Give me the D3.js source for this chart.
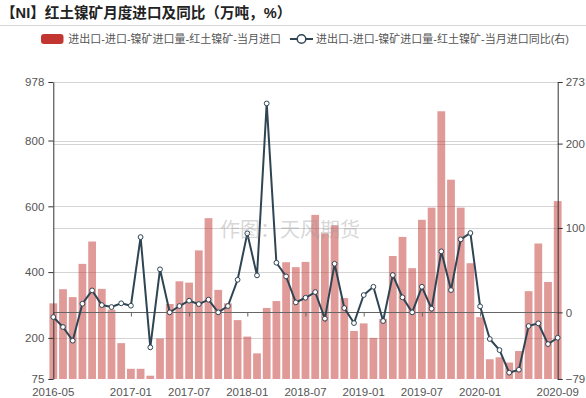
<!DOCTYPE html>
<html>
<head>
<meta charset="utf-8">
<script src="https://cdn.jsdelivr.net/npm/d3@7"></script>
<style>
  body { margin: 0; background: #fff; }
  svg { display: block; font-family: "Liberation Sans", Arial, "Noto Sans CJK SC", sans-serif; }
</style>
</head>
<body>
<div id="chart"></div>
<script>
// monthly categories
var months = ["2016-05","2016-06","2016-07","2016-08","2016-09","2016-10","2016-11","2016-12",
  "2017-01","2017-02","2017-03","2017-04","2017-05","2017-06","2017-07","2017-08","2017-09","2017-10","2017-11","2017-12",
  "2018-01","2018-02","2018-03","2018-04","2018-05","2018-06","2018-07","2018-08","2018-09","2018-10","2018-11","2018-12",
  "2019-01","2019-02","2019-03","2019-04","2019-05","2019-06","2019-07","2019-08","2019-09","2019-10","2019-11","2019-12",
  "2020-01","2020-02","2020-03","2020-04","2020-05","2020-06","2020-07","2020-08","2020-09"];

// 当月进口 (万吨)
var imports = [305,348,324,425,493,349,286,184,
  106,106,85,198,303,372,368,466,564,346,305,254,
  204,153,291,312,430,415,431,574,518,542,321,221,
  244,200,258,449,507,412,559,596,889,681,596,427,
  263,135,141,125,160,342,487,370,616];

// 当月进口同比 (%)
var yoy = [-5.6,-17.4,-33.6,10.2,26,8.6,6.3,10.7,
  7.9,89.2,-41.5,51,0,7.5,13.8,9.8,15,0,7.5,38.6,
  93.6,43.8,247.6,58.8,42.6,11.8,17.3,24,-7.5,57.6,5.1,-12.7,
  20.5,30.3,-10.3,44.2,17.8,0,30.3,4.3,72.3,26.4,86.5,94,
  7.1,-31.6,-44.7,-71.5,-68,-16.2,-13,-37.6,-30.1];

var xTickLabels = ["2016-05","2017-01","2017-07","2018-01","2018-07","2019-01","2019-07","2020-01","2020-09"];
var leftTicks = [75,200,400,600,800,978];
var rightTicks = [-79,0,100,200,273];

var title = "【NI】红土镍矿月度进口及同比（万吨，%）";
var barName = "进出口-进口-镍矿进口量-红土镍矿-当月进口";
var lineName = "进出口-进口-镍矿进口量-红土镍矿-当月进口同比(右)";

var W = 586, H = 398;
var pLeft = 53.3, pRight = 557.7, pTop = 82, pBottom = 379;
var barColor = "#c23531", lineColor = "#2f4554";

var svg = d3.select("#chart").append("svg").attr("width", W).attr("height", H);
svg.append("rect").attr("width", W).attr("height", H).attr("fill", "#fff");

var x = d3.scalePoint().domain(months).range([pLeft, pRight]);
var step = x.step();
var yL = d3.scaleLinear().domain([75, 978]).range([pBottom, pTop]);
var yR = d3.scaleLinear().domain([-79, 273]).range([pBottom, pTop]);

// title + separator
svg.append("text").attr("x", 1).attr("y", 18)
  .attr("font-size", "14.6px").attr("font-weight", "bold").attr("fill", "#222")
  .text(title);
svg.append("line").attr("x1", 0).attr("x2", W).attr("y1", 25.5).attr("y2", 25.5)
  .attr("stroke", "#d6d6d6");

// grid lines
var grid = svg.append("g");
leftTicks.slice(1).forEach(function(t) {
  grid.append("line").attr("x1", pLeft).attr("x2", pRight)
    .attr("y1", Math.round(yL(t)) + 0.5).attr("y2", Math.round(yL(t)) + 0.5)
    .attr("stroke", "#d4d4d4");
});
[100, 200].forEach(function(t) {
  grid.append("line").attr("x1", pLeft).attr("x2", pRight)
    .attr("y1", Math.round(yR(t)) + 0.5).attr("y2", Math.round(yR(t)) + 0.5)
    .attr("stroke", "#d4d4d4");
});

// bars
svg.append("g").selectAll("rect")
  .data(imports)
  .enter().append("rect")
    .attr("x", function(d, i) { return x(months[i]) - step * 0.4; })
    .attr("y", function(d) { return yL(d); })
    .attr("width", step * 0.8)
    .attr("height", function(d) { return pBottom - yL(d); })
    .attr("fill", barColor)
    .attr("fill-opacity", 0.5);

// x axis on the right-axis zero line
var zeroY = Math.round(yR(0)) + 0.5;
var xAxis = svg.append("g").attr("transform", "translate(0," + zeroY + ")")
  .call(d3.axisBottom(x).tickValues(xTickLabels.slice(0, -1)).tickSize(4).tickFormat(""));
xAxis.select(".domain").attr("stroke", "#666").attr("d", "M" + pLeft + ",0H" + pRight);
xAxis.selectAll(".tick line").attr("stroke", "#666");

svg.append("g").selectAll("text")
  .data(xTickLabels)
  .enter().append("text")
    .attr("x", function(d) { return x(d); })
    .attr("y", 396)
    .attr("text-anchor", "middle")
    .attr("font-size", "11.5px")
    .attr("fill", "#555")
    .text(function(d) { return d; });

// left axis
var axL = svg.append("g").attr("transform", "translate(" + pLeft + ",0)")
  .call(d3.axisLeft(yL).tickValues(leftTicks).tickSize(5).tickSizeOuter(0).tickPadding(4));
axL.select(".domain").attr("stroke", "#333");
axL.selectAll(".tick line").attr("stroke", "#333");

// right axis
var axR = svg.append("g").attr("transform", "translate(" + pRight + ",0)")
  .call(d3.axisRight(yR).tickValues(rightTicks).tickSize(5).tickSizeOuter(0).tickPadding(3));
axR.select(".domain").attr("stroke", "#333");
axR.selectAll(".tick line").attr("stroke", "#333");

[axL, axR, xAxis].forEach(function(a) { a.attr("font-family", null).attr("font-size", null); });
svg.selectAll(".tick text").attr("font-size", "11.5px").attr("fill", "#555");

// line
var line = d3.line()
  .x(function(d, i) { return x(months[i]); })
  .y(function(d) { return yR(d); });
svg.append("path").datum(yoy)
  .attr("d", line)
  .attr("fill", "none")
  .attr("stroke", lineColor)
  .attr("stroke-width", 2);
svg.append("g").selectAll("circle")
  .data(yoy)
  .enter().append("circle")
    .attr("cx", function(d, i) { return x(months[i]); })
    .attr("cy", function(d) { return yR(d); })
    .attr("r", 2.4)
    .attr("fill", "#fff")
    .attr("stroke", lineColor)
    .attr("stroke-width", 1);

// watermark
svg.append("text").attr("x", 290).attr("y", 237)
  .attr("text-anchor", "middle")
  .attr("font-size", "20px")
  .attr("fill", "#999").attr("fill-opacity", 0.4)
  .text("作图：天风期货");

// legend
var lg = svg.append("g");
lg.append("rect").attr("x", 41).attr("y", 34).attr("width", 22.5).attr("height", 10).attr("rx", 3)
  .attr("fill", barColor);
lg.append("text").attr("x", 68.3).attr("y", 43).attr("font-size", "11px").attr("fill", "#555")
  .text(barName);
lg.append("line").attr("x1", 290).attr("x2", 313).attr("y1", 39).attr("y2", 39)
  .attr("stroke", lineColor).attr("stroke-width", 2);
lg.append("circle").attr("cx", 301.5).attr("cy", 39).attr("r", 4.3)
  .attr("fill", "#fff").attr("stroke", lineColor).attr("stroke-width", 1.5);
lg.append("text").attr("x", 316).attr("y", 43).attr("font-size", "11px").attr("fill", "#555")
  .text(lineName);
</script>
</body>
</html>
